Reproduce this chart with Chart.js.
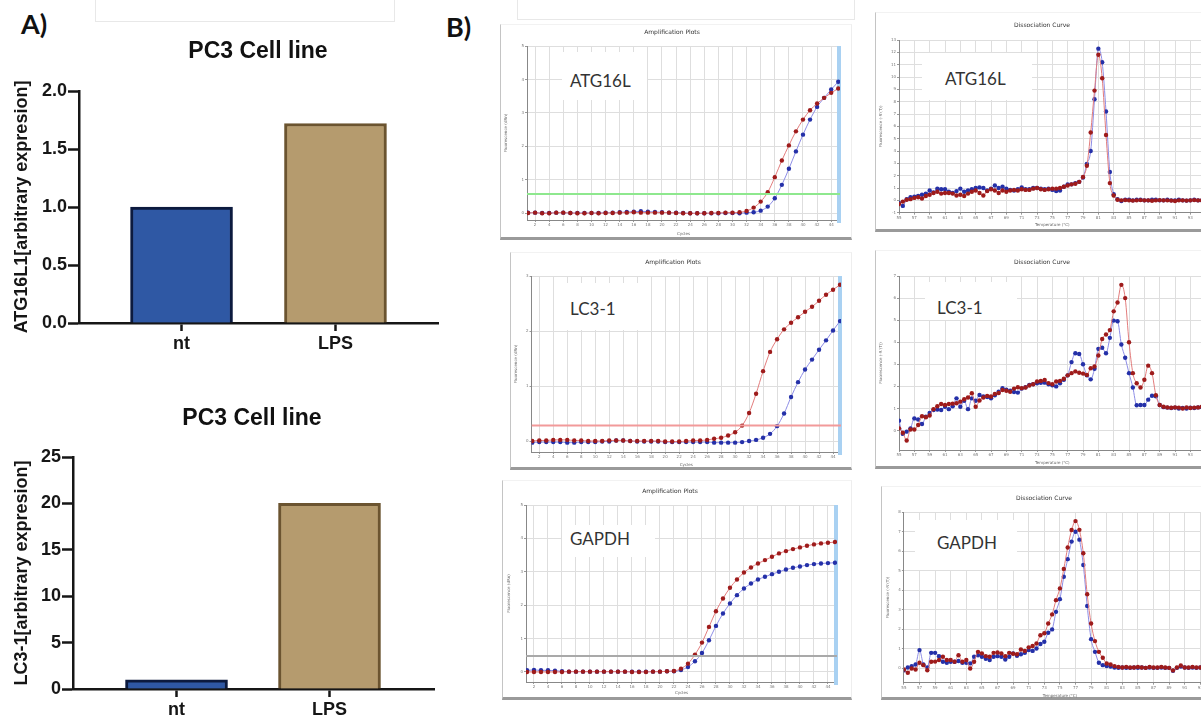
<!DOCTYPE html>
<html>
<head>
<meta charset="utf-8">
<script src="https://cdn.jsdelivr.net/npm/chart.js@4.4.1/dist/chart.umd.min.js"></script>
<style>
html, body { margin:0; padding:0; overflow:hidden; }
body { width:1201px; height:720px; position:relative; background:#fff; }
.box { position:absolute; }
.frame { position:absolute; box-sizing:border-box; border-left:1px solid #c4c4c4; border-bottom:3px solid #9a9a9a; border-top:1px solid #f2f2f2; border-right:1px solid #eeeeee; }
.ghost { position:absolute; box-sizing:border-box; border:1px solid #e8e8e8; }
.tag { position:absolute; background:#fff; font-family:Lato, 'Open Sans', sans-serif; font-size:17px; line-height:20px; color:#333; box-sizing:border-box; white-space:nowrap; }
.panel { position:absolute; font-family:Lato, sans-serif; font-weight:700; font-size:27px; line-height:27px; color:#111; }
</style>
</head>
<body>
<div class="ghost" style="left:95px;top:-2px;width:300px;height:24px"></div>
<div class="ghost" style="left:517px;top:-2px;width:338px;height:22px"></div>
<div class="panel" style="left:21px;top:10px">A)</div>
<div class="panel" style="left:446px;top:13px">B)</div>

<div class="frame" style="left:500px;top:24px;width:352px;height:216px"></div>
<div class="frame" style="left:875px;top:12px;width:340px;height:220px"></div>
<div class="frame" style="left:510px;top:252px;width:342px;height:218px"></div>
<div class="frame" style="left:875px;top:250px;width:340px;height:219px"></div>
<div class="frame" style="left:502px;top:480px;width:350px;height:220px"></div>
<div class="frame" style="left:881px;top:486px;width:334px;height:214px"></div>

<script>
// ---- panel A data
const groups = ['nt', 'LPS'];
const atgExpr = [1.0, 1.72];
const lc3Expr = [1.0, 20.0];
const atgTicks = [0, 0.5, 1.0, 1.5, 2.0];
const lc3Ticks = [0, 5, 10, 15, 20, 25];

// ---- panel B: amplification plots (cycles 1..45)
const cycleStart = 1, cycleStep = 1;
const atgAmpRed = [0.01,0.02,0.00,0.00,0.02,0.02,0.01,0.00,0.00,0.01, 0.00,0.01,0.01,0.02,0.02,0.03,0.02,0.02,0.02,0.02,
  0.02,0.01,0.00,0.00,0.00,0.00,0.01,0.01,0.02,0.02, 0.03,0.07,0.17,0.35,0.63,1.08,1.58,2.03,2.45,2.80, 3.08,3.28,3.45,3.60,3.73];
const atgAmpBlue = [0.02,0.02,0.01,0.01,0.02,0.02,0.01,0.01,0.01,0.01, 0.01,0.02,0.02,0.03,0.04,0.05,0.06,0.05,0.04,0.03,
  0.02,0.02,0.01,0.00,0.00,0.00,0.00,0.00,0.01,0.01, 0.00,0.02,0.03,0.08,0.20,0.45,0.85,1.33,1.85,2.35, 2.80,3.18,3.45,3.70,3.93];
const lc3AmpRed = [0.00,0.01,0.01,0.02,0.02,0.02,0.01,0.01,0.00,0.00, 0.00,0.01,0.01,0.01,0.00,0.00,0.00,0.00,0.00,-0.01,
  -0.01,-0.01,0.00,0.01,0.01, 0.02,0.04,0.06,0.10,0.16, 0.28,0.51,0.86,1.27,1.62, 1.85,2.03,2.15,2.25,2.35, 2.44,2.55,2.66,2.75,2.84];
const lc3AmpBlue = [-0.03,-0.02,-0.02,-0.02,-0.02,-0.03,-0.03,-0.02,-0.02,-0.02, -0.01,-0.01,0.01,0.01,0.00,-0.01,-0.01,-0.01,-0.01,-0.02,
  -0.02,-0.02,-0.02,-0.02,-0.02,-0.02,-0.03,-0.03,-0.03,-0.03, -0.02, 0.00,0.02,0.06,0.13,0.27, 0.50,0.80,1.07,1.30,1.48, 1.66,1.83,2.01,2.18];
const gapdhAmpRed = [0.00,0.00,0.00,0.00,0.00,0.00,0.01,0.01,0.01,0.01, 0.01,0.01,0.01,0.01,0.01,0.00,0.00,0.00,0.01,0.01,
  0.02, 0.03,0.10,0.25,0.52,0.88, 1.35,1.82,2.20,2.52,2.77, 2.98,3.13,3.25,3.35,3.45, 3.55,3.62,3.68,3.73,3.78, 3.82,3.85,3.87,3.89];
const gapdhAmpBlue = [0.05,0.06,0.05,0.05,0.04,0.02,0.01,0.01,0.01,0.01, 0.01,0.01,0.01,0.01,0.01,0.01,0.01,0.01,0.01,0.01,
  0.02, 0.02,0.06,0.15,0.32,0.57, 0.95,1.38,1.75,2.05,2.30, 2.50,2.65,2.77,2.85,2.93, 3.00,3.07,3.12,3.16,3.20, 3.23,3.25,3.26,3.27];
const atgThreshold = 0.58;
const lc3Threshold = 0.28;
const gapdhThreshold = 0.48;

// ---- panel B: dissociation curves (55..95 C, 0.5 C steps)
const meltStart = 55, meltStep = 0.5;
const atgMeltRed = [-0.3,-0.1,0.05,0.1,0.2,0.25,0.15,0.35,0.45,0.6, 0.7,0.55,0.6,0.6,0.55,0.4,0.45,0.35,0.55,0.7,
  0.8,0.6,0.4,0.75,0.9,0.8,0.6,0.8,0.7,0.8, 0.85,0.8,0.9,0.85,0.85,0.95,1.0,0.9,0.85,0.9,
  0.95,0.95,1.0,1.1,1.2,1.3,1.35,1.5,1.9,2.8, 5.5,8.9,11.8,9.9,5.3,1.4,0.4,0.05,0.0,0.02,
  0.0,-0.02,0.0,0.02,0.0,0.0,-0.03,0.0,0.02,0.0, 0.0,-0.02,-0.05,0.0,0.0,-0.02,0.0,0.02,0.0,0.0, -0.02];
const atgMeltBlue = [-0.2,-0.45,0.1,0.25,0.3,0.35,0.45,0.55,0.8,0.65, 0.95,0.9,0.9,0.7,0.6,0.75,0.95,0.7,0.8,0.9,
  1.0,1.05,1.0,0.8,0.95,1.2,1.0,1.1,0.95,0.85, 0.8,0.9,1.05,0.9,0.9,1.0,1.0,0.95,0.9,0.95,
  0.85,0.75,0.8,1.1,1.3,1.3,1.4,1.5,1.85,2.95, 4.0,8.2,12.3,11.2,7.2,2.3,0.5,0.1,-0.05,0.05,
  0.05,0.0,0.05,0.05,0.0,0.0,0.05,0.05,0.0,0.0, 0.05,0.0,0.0,0.05,0.0,-0.02,0.0,0.05,0.0,0.0, 0.0];
const lc3MeltRed = [0.1,-0.1,-0.45,0.05,0.05,0.25,0.65,0.6,0.68,0.97, 1.1,1.2,1.16,1.2,1.22,1.24,1.31,1.42,1.5,1.69,
  1.08,1.36,1.5,1.57,1.54,1.66,1.7,1.84,1.8,1.76, 1.9,1.96,1.92,1.95,2.04,2.1,2.22,2.25,2.29,2.15,
  2.1,2.22,2.25,2.35,2.5,2.6,2.68,2.62,2.58,2.52, 2.82,2.9,3.4,4.15,4.35,4.55,5.4,5.8,6.6,6.0,
  4.0,2.6,2.14,1.95,2.3,2.94,2.6,1.6,1.16,1.08, 1.05,1.03,1.05,1.04,1.0,1.05,1.02,1.04,1.05,1.08, 1.1];
const lc3MeltBlue = [0.45,-0.15,-0.05,0.1,0.55,0.5,0.3,0.63,0.8,0.93, 0.95,0.93,1.08,0.97,1.1,1.46,1.08,1.35,0.97,1.46,
  1.35,1.61,1.55,1.52,1.46,1.6,1.76,1.92,1.85,1.8, 1.75,1.72,1.9,1.96,2.07,2.1,2.14,2.16,2.17,2.1,
  2.05,2.0,2.14,2.3,2.5,3.1,3.5,3.47,3.0,2.5, 2.32,2.8,3.7,3.75,3.5,4.2,4.98,4.95,3.9,3.3,
  2.6,1.95,1.15,1.16,1.16,1.4,1.58,1.55,1.16,1.06, 1.04,1.02,1.04,1.0,1.02,1.0,1.03,1.02,1.05,1.06, 1.08];
const gapdhMeltRed = [-0.05,-0.22,0.0,-0.05,0.29,0.17,-0.09,0.34,0.35,0.43, 0.6,0.43,0.43,0.34,0.68,0.34,0.43,0.0,0.34,0.85,
  0.77,0.63,0.6,0.8,0.82,0.77,0.63,0.8,0.75,0.73, 0.97,0.9,1.08,1.15,1.28,1.7,1.8,2.3,2.77,3.5,
  4.1,5.1,6.2,7.09,7.55,7.1,5.9,3.8,2.3,1.4, 0.85,0.55,0.25,0.2,0.12,0.08,0.05,0.08,0.05,0.05,
  0.08,0.05,0.03,0.08,0.05,0.05,0.08,0.05,0.03,-0.1, 0.05,0.15,0.05,0.05,0.08,0.05,0.05,0.03,0.05,0.05, 0.05];
const gapdhMeltBlue = [-0.1,0.05,0.12,0.2,0.94,0.2,0.05,0.8,0.8,0.63, 0.34,0.29,0.34,0.34,0.38,0.29,0.29,0.26,0.6,0.68,
  0.6,0.5,0.43,0.6,0.63,0.6,0.46,0.6,0.77,0.65, 0.73,0.8,0.94,0.9,1.02,1.25,1.37,1.83,2.0,2.9,
  3.55,4.7,5.6,6.5,7.0,6.6,5.3,3.2,1.5,0.85, 0.29,0.17,0.12,0.1,0.05,0.03,0.05,0.03,0.03,0.05,
  0.03,0.05,0.03,0.05,0.03,0.03,0.05,0.03,0.03,-0.12, 0.03,0.1,0.05,0.03,0.05,0.03,0.05,0.03,0.03,0.05, 0.05];

const ARIAL = '"Liberation Sans", Arial, sans-serif';
const TINY = '"DejaVu Sans", sans-serif';

// little helper plugin: headline text + light blue end-of-run bar
const decor = {
  id: 'decor',
  defaults: {},
  beforeDatasetsDraw(chart, args, o) {
    if (!o.edge) return;
    const a = chart.chartArea, ctx = chart.ctx;
    ctx.save();
    ctx.fillStyle = o.edge;
    ctx.fillRect(a.right - 3, a.top, 4, a.bottom - a.top + 3);
    ctx.restore();
  },
  afterDraw(chart, args, o) {
    if (!o.text) return;
    const ctx = chart.ctx;
    ctx.save();
    ctx.font = o.font;
    ctx.fillStyle = o.color || '#222';
    ctx.textAlign = 'center';
    ctx.textBaseline = 'middle';
    ctx.fillText(o.text, o.x, o.y);
    ctx.restore();
  }
};
Chart.register(decor);

function mount(box) {
  const d = document.createElement('div');
  d.className = 'box';
  d.style.cssText = 'left:' + box.l + 'px;top:' + box.t + 'px;width:' + box.w + 'px;height:' + box.h + 'px';
  const c = document.createElement('canvas');
  c.width = box.w; c.height = box.h;
  c.style.width = box.w + 'px'; c.style.height = box.h + 'px';
  d.appendChild(c);
  document.body.appendChild(d);
  return c;
}

// padding + axis sizes so the plot area lands where it should on the page
function fit(box, area) {
  return {
    pad: {left: 0, top: area.t - box.t, right: box.l + box.w - area.r, bottom: 0},
    yw: area.l - box.l,
    xh: box.t + box.h - area.b
  };
}

function tag(text, l, t, w, h, pl, pt) {
  const d = document.createElement('div');
  d.className = 'tag';
  d.style.cssText = 'left:' + l + 'px;top:' + t + 'px;width:' + w + 'px;height:' + h + 'px;padding-left:' + pl + 'px;padding-top:' + pt + 'px';
  d.textContent = text;
  document.body.appendChild(d);
}

function barPanel(box, area, vals, ticks, digits, yLabel, xr, head) {
  const f = fit(box, area);
  const ink = '#161616';
  new Chart(mount(box), {
    type: 'bar',
    data: {
      datasets: [{
        data: vals.map((v, i) => ({x: i + 1, y: v})),
        backgroundColor: ['#2f58a4', '#b59b6e'],
        borderColor: ['#0c1a3e', '#6b5430'],
        borderWidth: 3,
        barThickness: 102
      }]
    },
    options: {
      responsive: false,
      animation: false,
      layout: {padding: f.pad},
      plugins: {
        legend: {display: false},
        tooltip: {enabled: false},
        decor: {text: 'PC3 Cell line', x: head[0], y: head[1], font: 'bold 23px ' + ARIAL, color: '#111'}
      },
      scales: {
        x: {
          type: 'linear', min: xr[0], max: xr[1], offset: false,
          afterFit: s => { s.height = f.xh; },
          afterBuildTicks: s => { s.ticks = groups.map((g, i) => ({value: i + 1})); },
          ticks: {callback: v => groups[v - 1], font: {family: ARIAL, size: 18, weight: 'bold'}, color: ink, padding: 2, maxRotation: 0},
          grid: {offset: false, drawOnChartArea: false, tickLength: 8, tickWidth: 2.5, tickColor: ink},
          border: {color: ink, width: 2.5}
        },
        y: {
          min: ticks[0], max: ticks[ticks.length - 1],
          afterFit: s => { s.width = f.yw; },
          afterBuildTicks: s => { s.ticks = ticks.map(v => ({value: v})); },
          ticks: {callback: v => v.toFixed(digits), font: {family: ARIAL, size: 18, weight: 'bold'}, color: ink, padding: 1},
          grid: {drawOnChartArea: false, tickLength: 11, tickWidth: 2.5, tickColor: ink},
          border: {color: ink, width: 2.5},
          title: {display: true, text: yLabel, font: {family: ARIAL, size: 18, weight: 'bold'}, color: ink, padding: {top: 11, bottom: 0}}
        }
      }
    }
  });
}

function series(vals, start, step, line, dot) {
  return {
    data: vals.map((v, i) => ({x: start + i * step, y: v})),
    borderColor: line,
    borderWidth: 1,
    pointRadius: 2.2,
    pointBorderWidth: 0,
    pointBackgroundColor: dot,
    cubicInterpolationMode: 'monotone'
  };
}

function tracePanel(c) {
  const f = fit(c.box, c.area);
  const sets = [];
  if (c.thr !== undefined) {
    sets.push({data: [{x: c.x[0], y: c.thr}, {x: c.x[1], y: c.thr}], borderColor: c.thrColor, borderWidth: 2, pointRadius: 0});
  }
  sets.push(series(c.red, c.start, c.step, '#e27c7c', '#9e1b1b'));
  sets.push(series(c.blue, c.start, c.step, '#8d8de6', '#2430a8'));
  const tiny = {family: TINY, size: 4};
  new Chart(mount(c.box), {
    type: 'line',
    data: {datasets: sets},
    options: {
      responsive: false,
      animation: false,
      layout: {padding: f.pad},
      plugins: {
        legend: {display: false},
        tooltip: {enabled: false},
        decor: {text: c.head, x: c.headAt[0] - c.box.l, y: c.headAt[1] - c.box.t, font: '6px ' + TINY, color: '#333', edge: c.edge}
      },
      scales: {
        x: {
          type: 'linear', min: c.x[0], max: c.x[1],
          afterFit: s => { s.height = f.xh; },
          ticks: {stepSize: c.x[2], includeBounds: false, autoSkip: false, maxRotation: 0, font: tiny, color: '#777', padding: 1},
          grid: {color: '#dedede', tickLength: 2, tickColor: '#999'},
          border: {color: '#888', width: 1},
          title: {display: true, text: c.xTitle, font: tiny, color: '#666', padding: {top: 0, bottom: 1}}
        },
        y: {
          min: c.y[0], max: c.y[1],
          afterFit: s => { s.width = f.yw; },
          ticks: {stepSize: c.y[2], includeBounds: false, font: tiny, color: '#777', padding: 1},
          grid: {color: '#dedede', tickLength: 2, tickColor: '#999'},
          border: {color: '#888', width: 1},
          title: {display: true, text: c.yTitle, font: tiny, color: '#666', padding: {top: 3, bottom: 0}}
        }
      }
    }
  });
}

// ---- panel A
barPanel({l: 0, t: 0, w: 450, h: 360}, {l: 79, r: 438, t: 91, b: 323}, atgExpr, atgTicks, 1,
  'ATG16L1[arbitrary expresion]', [0.334, 2.666], [258, 52]);
barPanel({l: 0, t: 380, w: 450, h: 340}, {l: 73, r: 434, t: 457, b: 689}, lc3Expr, lc3Ticks, 0,
  'LC3-1[arbitrary expresion]', [0.3235, 2.683], [252, 39]);

// ---- panel B, amplification
const ampX = 'Cycles', ampY = 'Fluorescence (dRn)';
const meltX = 'Temperature (\u00B0C)', meltY = "Fluorescence (-R'(T))";
tracePanel({box: {l: 501, t: 22, w: 345, h: 215}, area: {l: 527, r: 840, t: 46, b: 220},
  x: [0.85, 45.25, 2], y: [-0.2, 5, 1], red: atgAmpRed, blue: atgAmpBlue, start: cycleStart, step: cycleStep,
  thr: atgThreshold, thrColor: '#8ee88e', edge: '#a9d1f2', head: 'Amplification Plots', headAt: [672, 32], xTitle: ampX, yTitle: ampY});
tracePanel({box: {l: 511, t: 252, w: 335, h: 216}, area: {l: 531.5, r: 841, t: 276, b: 452},
  x: [0.89, 45.14, 2], y: [-0.2, 3, 1], red: lc3AmpRed, blue: lc3AmpBlue, start: cycleStart, step: cycleStep,
  thr: lc3Threshold, thrColor: '#f29a9a', edge: '#a9d1f2', head: 'Amplification Plots', headAt: [673, 262], xTitle: ampX, yTitle: ampY});
tracePanel({box: {l: 504, t: 482, w: 342, h: 214}, area: {l: 526, r: 837, t: 505, b: 682},
  x: [0.86, 45.29, 2], y: [-0.3, 5, 1], red: gapdhAmpRed, blue: gapdhAmpBlue, start: cycleStart, step: cycleStep,
  thr: gapdhThreshold, thrColor: '#a9a9a9', edge: '#a9d1f2', head: 'Amplification Plots', headAt: [670, 491], xTitle: ampX, yTitle: ampY});

// ---- panel B, dissociation
tracePanel({box: {l: 876, t: 14, w: 340, h: 214}, area: {l: 899, r: 1205.7, t: 40, b: 212.7},
  x: [55, 95, 2], y: [-1, 13, 1], red: atgMeltRed, blue: atgMeltBlue, start: meltStart, step: meltStep,
  head: 'Dissociation Curve', headAt: [1042, 25], xTitle: meltX, yTitle: meltY});
tracePanel({box: {l: 876, t: 252, w: 340, h: 214}, area: {l: 899, r: 1205.7, t: 276, b: 450},
  x: [55, 95, 2], y: [-0.88, 7, 1], red: lc3MeltRed, blue: lc3MeltBlue, start: meltStart, step: meltStep,
  head: 'Dissociation Curve', headAt: [1042, 262], xTitle: meltX, yTitle: meltY});
tracePanel({box: {l: 883, t: 488, w: 345, h: 211}, area: {l: 903.9, r: 1215.9, t: 512.3, b: 682.7},
  x: [55, 95, 2], y: [-0.73, 8, 1], red: gapdhMeltRed, blue: gapdhMeltBlue, start: meltStart, step: meltStep,
  head: 'Dissociation Curve', headAt: [1044, 498], xTitle: meltX, yTitle: meltY});

// gene labels pasted on top of the plots
tag('ATG16L', 562, 52, 85, 48, 8, 19);
tag('ATG16L', 922, 53, 110, 47, 23, 16);
tag('LC3-1', 562, 283, 78, 47, 8, 16);
tag('LC3-1', 925, 282, 92, 38, 12, 16);
tag('GAPDH', 562, 525, 93, 32, 8, 4);
tag('GAPDH', 915, 520, 102, 50, 22, 13);
</script>
</body>
</html>
